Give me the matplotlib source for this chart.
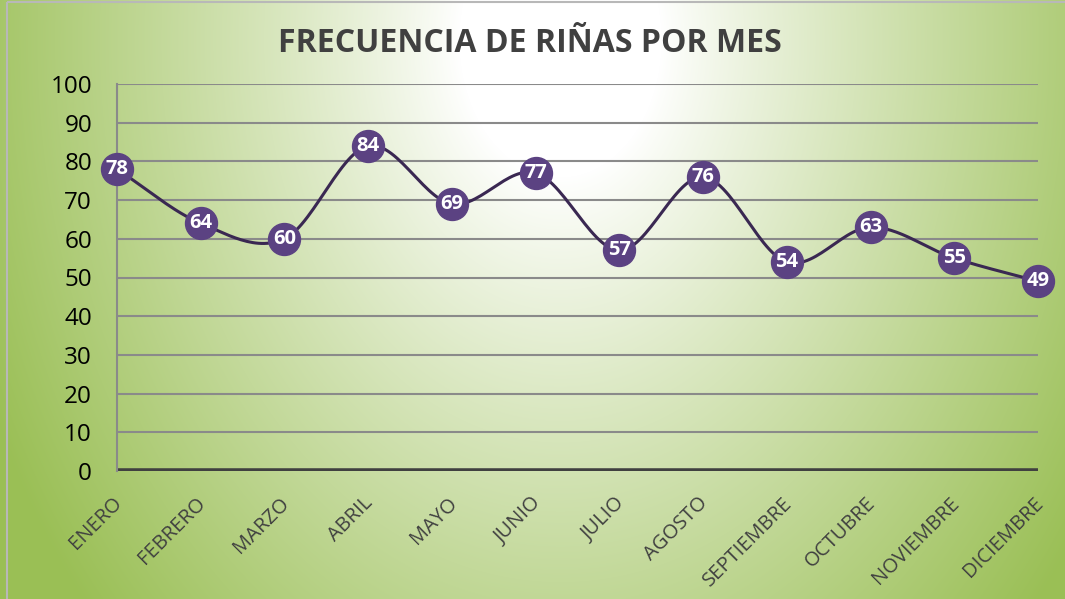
import matplotlib.pyplot as plt
import matplotlib.transforms as mtransforms
import numpy as np
from matplotlib.patches import Rectangle

meses = ["ENERO", "FEBRERO", "MARZO", "ABRIL", "MAYO", "JUNIO", "JULIO",
         "AGOSTO", "SEPTIEMBRE", "OCTUBRE", "NOVIEMBRE", "DICIEMBRE"]
rinas = [78, 64, 60, 84, 69, 77, 57, 76, 54, 63, 55, 49]
y_ticks = list(range(0, 101, 10))

W, H, DPI = 1065, 599, 100
FONT = "Open Sans"


def smooth(xs, ys, n=30):
    """Catmull-Rom curve through the points, like a smoothed line chart."""
    px = np.concatenate([[2 * xs[0] - xs[1]], xs, [2 * xs[-1] - xs[-2]]])
    py = np.concatenate([[2 * ys[0] - ys[1]], ys, [2 * ys[-1] - ys[-2]]])
    out_x, out_y = [], []
    t = np.linspace(0, 1, n)
    for i in range(1, len(px) - 2):
        for p, out in ((px, out_x), (py, out_y)):
            p0, p1, p2, p3 = p[i - 1], p[i], p[i + 1], p[i + 2]
            seg = 0.5 * ((2 * p1) + (-p0 + p2) * t
                         + (2 * p0 - 5 * p1 + 4 * p2 - p3) * t ** 2
                         + (-p0 + 3 * p1 - 3 * p2 + p3) * t ** 3)
            out.extend(seg)
    return np.array(out_x), np.array(out_y)


fig = plt.figure(figsize=(W / DPI, H / DPI), dpi=DPI)

# radial white-to-green background
bg = fig.add_axes([0, 0, 1, 1], zorder=0)
gx, gy = np.meshgrid(np.arange(W), np.arange(H))
d = np.sqrt(((gx - 560) / 560.0) ** 2 + ((gy - 40) / 760.0) ** 2)
t = np.clip((d - 0.18) / 0.95, 0, 1) ** 0.9
white = np.array([1.0, 1.0, 1.0])
green = np.array([0x9a, 0xbf, 0x55]) / 255.0
img = white[None, None, :] * (1 - t[..., None]) + green[None, None, :] * t[..., None]
bg.imshow(img, extent=(0, W, H, 0), aspect="auto", interpolation="bilinear")
bg.add_patch(Rectangle((6.5, 1.5), W + 10, H + 10, fill=False,
                       edgecolor="#b8b8b8", linewidth=1.5))
bg.set_xlim(0, W)
bg.set_ylim(H, 0)
bg.axis("off")

# plot area in pixel coordinates
left, right, top, bottom = 117, 1038, 84, 471
ax = fig.add_axes([left / W, 1 - bottom / H, (right - left) / W, (bottom - top) / H],
                  zorder=1)
ax.patch.set_alpha(0)

x = np.arange(len(meses))
ax.set_xlim(0, len(meses) - 1)
ax.set_ylim(0, 100)

for v in y_ticks[1:]:
    ax.axhline(v, color="#8a8a8a", linewidth=1.5, zorder=1)
ax.axhline(0, color="#404040", linewidth=4, zorder=2, solid_capstyle="butt")

for side in ("top", "right", "bottom"):
    ax.spines[side].set_visible(False)
ax.spines["left"].set_color("#8a8a8a")
ax.spines["left"].set_linewidth(1.5)

sx, sy = smooth(x.astype(float), np.array(rinas, dtype=float))
ax.plot(sx, sy, color="#3a2852", linewidth=2.2, zorder=3, clip_on=False)
ax.plot(x, rinas, "o", markersize=23, color="#5b4282",
        markeredgecolor="#5b4282", zorder=4, clip_on=False)
for xi, v in zip(x, rinas):
    ax.text(xi, v, str(v), ha="center", va="center", color="white",
            fontsize=14.5, fontweight="bold", family=FONT, zorder=5)

ax.set_yticks(y_ticks)
ax.set_yticklabels([str(v) for v in y_ticks], fontsize=17.5, family=FONT,
                   color="black")
ax.tick_params(axis="y", length=0, pad=18)

ax.set_xticks(x)
ax.set_xticklabels(meses, rotation=45, ha="right", va="top",
                   rotation_mode="anchor", fontsize=14.5, family=FONT,
                   color="#404040")
ax.tick_params(axis="x", length=0, pad=16)
shift = mtransforms.ScaledTranslation(-5 / DPI, 0, fig.dpi_scale_trans)
for lbl in ax.get_xticklabels():
    lbl.set_transform(lbl.get_transform() + shift)

fig.text(530 / W, 1 - 44 / H, "FRECUENCIA DE RIÑAS POR MES", ha="center",
         va="center", fontsize=23, fontweight="bold", family=FONT,
         color="#404040")

fig.savefig("out.png", dpi=DPI)
